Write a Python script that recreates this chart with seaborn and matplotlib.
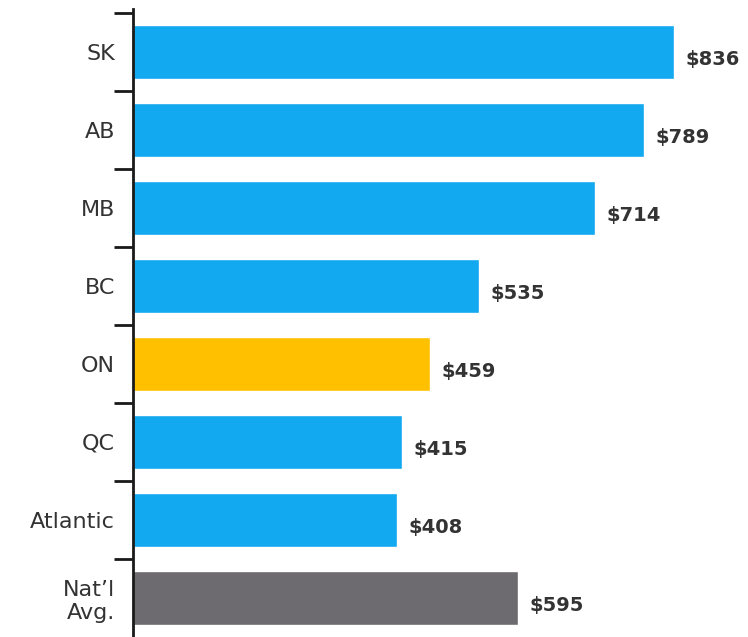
import matplotlib
matplotlib.use("Agg")
import matplotlib.pyplot as plt
import seaborn as sns
import pandas as pd

regions = ["SK", "AB", "MB", "BC", "ON", "QC", "Atlantic", "Nat\u2019l\nAvg."]
amounts = [836, 789, 714, 535, 459, 415, 408, 595]
colors = ["#12A9F0", "#12A9F0", "#12A9F0", "#12A9F0", "#FFC000", "#12A9F0", "#12A9F0", "#6D6A70"]

df = pd.DataFrame({"region": regions, "amount": amounts})

sns.set_theme(style="white")
plt.rcParams["font.family"] = ["DejaVu Sans"]

fig = plt.figure(figsize=(7.48, 6.37), dpi=100)
ax = fig.add_axes([133 / 748, 0, 615 / 748, 628 / 637])

sns.barplot(data=df, x="amount", y="region", hue="region", palette=colors,
            orient="h", width=0.7, legend=False, ax=ax, saturation=1)

ax.set_xlim(0, 950)
ax.set_ylim(7.5, -0.55)

for i, v in enumerate(amounts):
    ax.text(v + 18, i + 0.1, f"${v}", va="center", ha="left",
            fontsize=14, fontweight="bold", color="#333333")

# ticks between categories, labels centred on the bars
ax.set_yticks([i - 0.5 for i in range(len(regions))])
ax.set_yticklabels([])
ax.set_yticks(range(len(regions)), minor=True)
ax.set_yticklabels(regions, minor=True, fontsize=16, color="#333333")
ax.tick_params(axis="y", which="major", length=14, width=2, color="#1a1a1a", left=True)
ax.tick_params(axis="y", which="minor", length=0, pad=13)
for lab in ax.get_yticklabels(minor=True):
    lab.set_horizontalalignment("right")
    lab.set_multialignment("right")

ax.set_xticks([])
ax.set_xlabel("")
ax.set_ylabel("")
sns.despine(ax=ax, top=True, right=True, bottom=True)
ax.spines["left"].set_linewidth(2)
ax.spines["left"].set_color("#1a1a1a")

fig.savefig("out.png", dpi=100)
